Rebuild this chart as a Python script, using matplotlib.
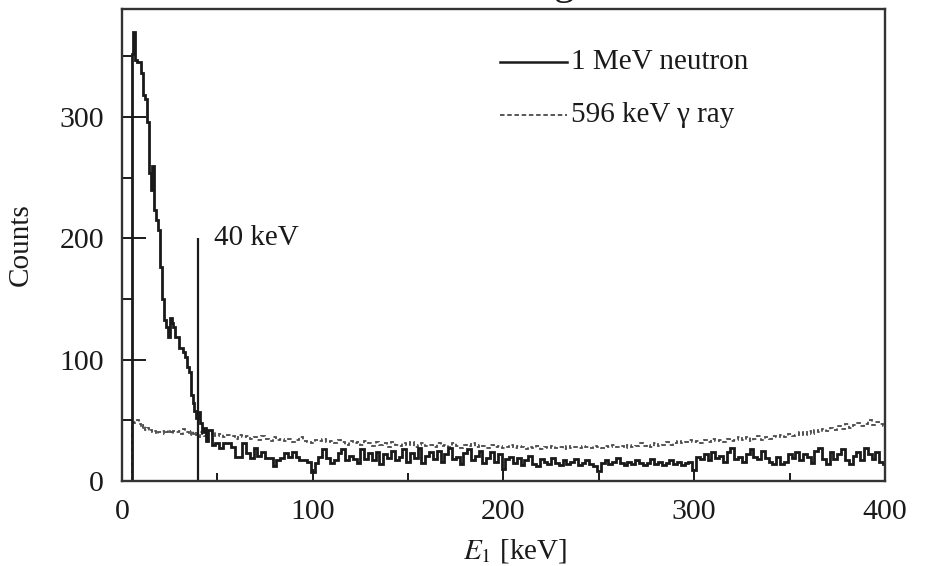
import numpy as np
import matplotlib
matplotlib.use("Agg")
import matplotlib.pyplot as plt
from matplotlib.ticker import MultipleLocator

plt.rcParams['font.family'] = ['Liberation Serif', 'DejaVu Serif']
plt.rcParams['mathtext.fontset'] = 'stix'

# ---- data (counts per bin) ----
# fine bins 1 keV from 5 to 45 keV, then 2 keV bins from 45 to 401 keV
fine_start, fine_stop, coarse_stop = 5, 45, 401

neutron_fine = [352, 370, 347, 345, 345, 336, 318, 315, 296, 254,
                240, 260, 223, 215, 207, 176, 150, 133, 127, 119,
                134, 130, 127, 119, 119, 110, 110, 106, 102, 94,
                90, 71, 64, 58, 52, 57, 48, 40, 44, 33]
neutron_coarse = [42, 30, 31, 27, 31, 31, 28, 20, 20, 31,
                  23, 19, 27, 21, 24, 19, 19, 12, 17, 19,
                  23, 20, 24, 20, 17, 17, 16, 7, 15, 20,
                  26, 19, 15, 17, 23, 26, 17, 21, 18, 15,
                  26, 18, 23, 17, 24, 14, 22, 19, 25, 17,
                  20, 26, 16, 23, 19, 27, 15, 21, 24, 18,
                  25, 16, 22, 27, 18, 20, 14, 23, 26, 17,
                  21, 25, 15, 19, 24, 16, 22, 10, 18, 20,
                  15, 19, 13, 17, 21, 14, 12, 18, 16, 14,
                  19, 15, 13, 17, 14, 16, 18, 13, 15, 17,
                  14, 12, 8, 15, 17, 14, 16, 19, 15, 13,
                  16, 14, 17, 15, 13, 15, 18, 14, 16, 13,
                  15, 17, 14, 16, 13, 15, 16, 9, 20, 18,
                  22, 17, 24, 19, 21, 16, 24, 27, 18, 20,
                  16, 22, 26, 20, 18, 25, 19, 16, 14, 20,
                  14, 16, 22, 19, 24, 17, 22, 20, 15, 25,
                  27, 18, 14, 24, 18, 22, 26, 17, 14, 21,
                  24, 17, 27, 22, 18, 24, 16, 14]

gamma_fine = [46, 48, 49, 50, 47, 44, 46, 42, 44, 41,
              42, 40, 41, 39, 40, 40, 41, 39, 40, 42,
              40, 39, 41, 40, 40, 41, 39, 43, 40, 40,
              38, 41, 39, 40, 38, 36, 40, 39, 37, 40]
gamma_coarse = [38, 40, 37, 39, 36, 38, 37, 35, 38, 36,
                37, 35, 36, 34, 37, 35, 33, 36, 34, 35,
                33, 35, 32, 34, 36, 33, 32, 31, 34, 33,
                35, 32, 33, 31, 34, 32, 30, 33, 31, 32,
                30, 33, 31, 29, 32, 30, 31, 28, 32, 30,
                29, 31, 30, 32, 28, 30, 31, 29, 30, 28,
                31, 29, 30, 28, 31, 29, 27, 30, 29, 31,
                28, 30, 29, 27, 30, 28, 29, 27, 28, 30,
                27, 29, 28, 26, 28, 27, 29, 26, 28, 27,
                29, 27, 28, 26, 29, 27, 28, 27, 29, 28,
                27, 29, 28, 27, 29, 28, 30, 28, 29, 27,
                30, 28, 29, 31, 29, 30, 28, 31, 29, 30,
                32, 30, 31, 33, 31, 32, 34, 32, 33, 31,
                34, 32, 35, 33, 34, 32, 35, 33, 34, 36,
                34, 36, 33, 35, 37, 34, 36, 35, 37, 36,
                38, 36, 39, 37, 38, 40, 38, 41, 39, 42,
                40, 43, 41, 44, 42, 45, 43, 47, 44, 46,
                48, 45, 47, 50, 46, 49, 47, 45]

marker_energy = 40      # keV
marker_height = 200
marker_label = "40 keV"
legend_labels = ["1 MeV neutron", "596 keV \u03b3 ray"]
x_ticks = [0, 100, 200, 300, 400]
y_ticks = [0, 100, 200, 300]

edges = np.concatenate([np.arange(fine_start, fine_stop, 1),
                        np.arange(fine_stop, coarse_stop + 1, 2)])
neutron = np.array(neutron_fine + neutron_coarse, dtype=float)
gamma = np.array(gamma_fine + gamma_coarse, dtype=float)

# ---- figure ----
fig = plt.figure(figsize=(9.47, 5.66), dpi=100)
ax = fig.add_axes([0.1288, 0.1502, 0.8057, 0.8339])

dark = '#1a1a1a'
gcol = '#4a4a4a'
ax.stairs(gamma, edges, baseline=0, color=gcol, lw=1.3,
          linestyle=(0, (2.5, 1.5)))
ax.stairs(neutron, edges, baseline=0, color=dark, lw=2.0)
ax.vlines(marker_energy, 0, marker_height, color=dark, lw=1.6)
ax.text(marker_energy + 8, marker_height, marker_label, fontsize=21,
        va='center', ha='left', color=dark)

ax.set_xlim(0, 400)
ax.set_ylim(0, 389)
ax.set_xticks(x_ticks)
ax.set_yticks(y_ticks)
ax.xaxis.set_minor_locator(MultipleLocator(50))
ax.yaxis.set_minor_locator(MultipleLocator(50))
ax.tick_params(axis='both', which='both', direction='in', colors=dark,
               labelsize=21.5, width=1.4)
ax.tick_params(axis='x', which='major', length=9, pad=13)
ax.tick_params(axis='x', which='minor', length=6)
ax.tick_params(axis='y', which='major', length=17, pad=13)
ax.tick_params(axis='y', which='minor', length=8)
for s in ax.spines.values():
    s.set_linewidth(1.7)
    s.set_color('#333333')

ax.set_xlabel(r'$E_1$ [keV]', fontsize=21, color=dark)
ax.xaxis.set_label_coords(0.515, -0.118)
ax.set_ylabel('Counts', fontsize=21, color=dark)
ax.yaxis.set_label_coords(-0.115, 0.5)

# legend drawn manually
ax.plot([0.495, 0.583], [0.888, 0.888], transform=ax.transAxes,
        color=dark, lw=1.8)
ax.text(0.588, 0.888, legend_labels[0], transform=ax.transAxes,
        fontsize=21, va='center', ha='left', color=dark)
ax.plot([0.495, 0.583], [0.775, 0.775], transform=ax.transAxes,
        color=gcol, lw=1.3, linestyle=(0, (2.5, 1.5)))
ax.text(0.588, 0.775, legend_labels[1], transform=ax.transAxes,
        fontsize=21, va='center', ha='left', color=dark)

# cut-off title fragment at the top edge (as in the reference)
fig.text(0.584, 1.0 + 6 / 566, 'g', fontsize=30, ha='left', va='baseline',
         color=dark)

fig.savefig('out.png', dpi=100)
